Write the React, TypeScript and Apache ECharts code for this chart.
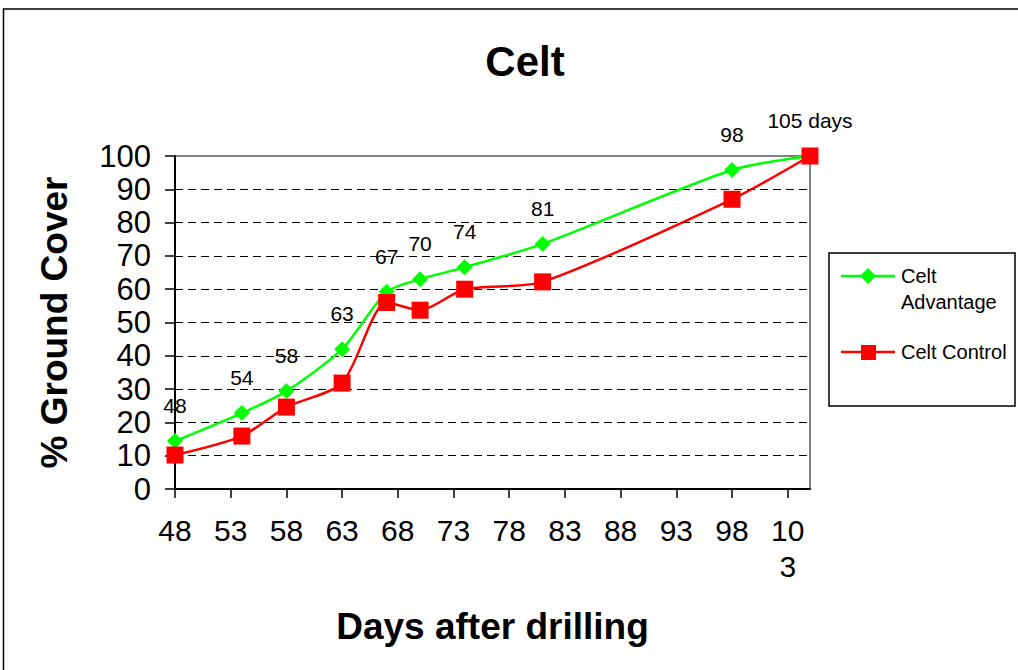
import React, { useEffect, useRef } from "react";
import * as echarts from "echarts";

const days = [48, 54, 58, 63, 67, 70, 74, 81, 98, 105];
const celtAdvantage = [14.4, 22.8, 29.4, 42.0, 59.2, 63.0, 66.6, 73.6, 95.8, 100];
const celtControl = [10.2, 15.9, 24.6, 31.8, 56.0, 53.7, 60.0, 62.2, 87.0, 100];
const dataLabels = ["48", "54", "58", "63", "67", "70", "74", "81", "98", "105 days"];
const xTicks = [48, 53, 58, 63, 68, 73, 78, 83, 88, 93, 98, 103];
const seriesNames = ["Celt Advantage", "Celt Control"];
const legendLabels = ["Celt\nAdvantage", "Celt Control"];

const FONT = "Liberation Sans, Arial, sans-serif";

export default function App() {
  const ref = useRef<HTMLDivElement>(null);
  useEffect(() => {
    if (!ref.current) return;
    const chart = echarts.init(ref.current, null, { renderer: "svg" });
    const option: any = {
      animation: false,
      backgroundColor: "#ffffff",
      title: {
        text: "Celt",
        left: 520,
        top: 35,
        textAlign: "center",
        textStyle: { fontFamily: FONT, fontSize: 42, fontWeight: "bold", color: "#000" },
      },
      grid: {
        left: 175,
        top: 156,
        right: 1018 - 810,
        bottom: 670 - 489,
        show: true,
        borderColor: "#808080",
        borderWidth: 2,
        backgroundColor: "transparent",
      },
      xAxis: {
        type: "value",
        min: 48,
        max: 105,
        name: "Days after drilling",
        nameLocation: "middle",
        nameGap: 119,
        nameTextStyle: { fontFamily: FONT, fontSize: 37, fontWeight: "bold", color: "#000" },
        axisLine: { show: true, lineStyle: { color: "#000", width: 2 } },
        axisTick: { show: true, inside: false, length: 9, customValues: xTicks, lineStyle: { color: "#000", width: 1.5 } },
        axisLabel: {
          customValues: xTicks,
          fontFamily: FONT,
          fontSize: 30,
          color: "#000",
          margin: 23,
          lineHeight: 36,
          formatter: (v: number) => (v === 103 ? "10\n3" : String(v)),
        },
        splitLine: { show: false },
      },
      yAxis: {
        type: "value",
        min: 0,
        max: 100,
        interval: 10,
        name: "% Ground Cover",
        nameLocation: "middle",
        nameGap: 102,
        nameRotate: 90,
        nameTextStyle: { fontFamily: FONT, fontSize: 37, fontWeight: "bold", color: "#000" },
        axisLine: { show: true, lineStyle: { color: "#000", width: 2 } },
        axisTick: { show: true, inside: false, length: 10, lineStyle: { color: "#000", width: 1.5 } },
        axisLabel: { fontFamily: FONT, fontSize: 31, color: "#000", margin: 24 },
        splitLine: {
          show: true,
          lineStyle: {
            color: ["transparent", "#000", "#000", "#000", "#000", "#000", "#000", "#000", "#000", "#000", "transparent"],
            type: [8, 5],
            width: 1,
          },
        },
      },
      series: [
        {
          name: seriesNames[0],
          type: "line",
          smooth: 0.25,
          data: days.map((d, i) => [d, celtAdvantage[i]]),
          symbol: "diamond",
          symbolSize: 16,
          lineStyle: { color: "#00ff00", width: 2.5 },
          itemStyle: { color: "#00ff00" },
          label: {
            show: true,
            position: "top",
            distance: 17,
            fontFamily: FONT,
            fontSize: 21,
            color: "#000",
            formatter: (p: any) => dataLabels[p.dataIndex],
          },
          z: 2,
        },
        {
          name: seriesNames[1],
          type: "line",
          smooth: 0.25,
          data: days.map((d, i) => [d, celtControl[i]]),
          symbol: "rect",
          symbolSize: 17,
          lineStyle: { color: "#ff0000", width: 2.5 },
          itemStyle: { color: "#ff0000" },
          z: 3,
        },
      ],
      graphic: [
        {
          type: "rect",
          shape: { x: 3.5, y: 9, width: 1100, height: 700 },
          style: { fill: "none", stroke: "#000", lineWidth: 1.5 },
          silent: true,
        },
        {
          type: "rect",
          shape: { x: 829, y: 253, width: 186, height: 153 },
          style: { fill: "#fff", stroke: "#000", lineWidth: 1.5 },
          silent: true,
        },
        {
          type: "line",
          shape: { x1: 841, y1: 276, x2: 895, y2: 276 },
          style: { stroke: "#00ff00", lineWidth: 2.5 },
        },
        {
          type: "polygon",
          shape: { points: [[868, 268], [876, 276], [868, 284], [860, 276]] },
          style: { fill: "#00ff00" },
        },
        {
          type: "text",
          x: 901,
          y: 263,
          style: { text: legendLabels[0], font: `20px ${FONT}`, fill: "#000", lineHeight: 26 },
        },
        {
          type: "line",
          shape: { x1: 841, y1: 352, x2: 895, y2: 352 },
          style: { stroke: "#ff0000", lineWidth: 2.5 },
        },
        {
          type: "rect",
          shape: { x: 861, y: 345, width: 15, height: 15 },
          style: { fill: "#ff0000" },
        },
        {
          type: "text",
          x: 901,
          y: 339,
          style: { text: legendLabels[1], font: `20px ${FONT}`, fill: "#000", lineHeight: 26 },
        },
      ],
    };
    chart.setOption(option);
    return () => chart.dispose();
  }, []);
  return (
    <div
      ref={ref}
      style={{ position: "fixed", left: 0, top: 0, width: 1018, height: 670, background: "#fff" }}
    />
  );
}
